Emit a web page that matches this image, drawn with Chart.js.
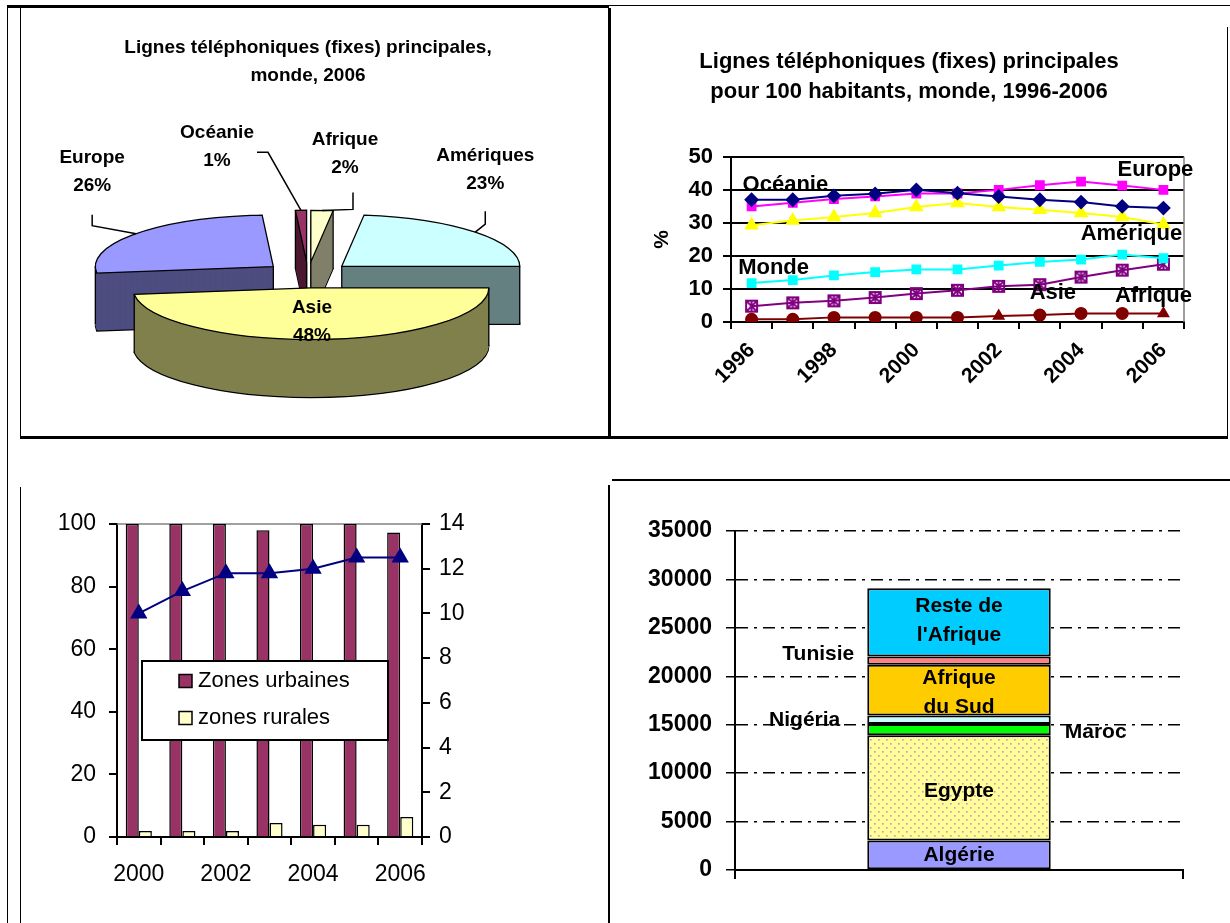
<!DOCTYPE html>
<html>
<head>
<meta charset="utf-8">
<script src="https://cdn.jsdelivr.net/npm/chart.js@4.4.1/dist/chart.umd.min.js"></script>
<style>
  body { margin: 0; background: #fff; }
  #page { position: relative; width: 1230px; height: 923px; overflow: hidden; background: #fff; }
  .ln { position: absolute; background: #000; }
  .panel { position: absolute; }
</style>
</head>
<body>
<div id="page">
  <!-- frame lines -->
  <div class="ln" style="left:7px;top:5px;width:1px;height:918px"></div>
  <div class="ln" style="left:7px;top:5px;width:602px;height:3px"></div>
  <div class="ln" style="left:609px;top:5px;width:621px;height:1px"></div>
  <div class="ln" style="left:20px;top:8px;width:1px;height:430px"></div>
  <div class="ln" style="left:608px;top:8px;width:3px;height:430px"></div>
  <div class="ln" style="left:1227px;top:27px;width:1px;height:411px"></div>
  <div class="ln" style="left:20px;top:436px;width:1208px;height:3px"></div>
  <div class="ln" style="left:20px;top:487px;width:1px;height:436px"></div>
  <div class="ln" style="left:608px;top:485px;width:2px;height:438px"></div>
  <div class="ln" style="left:612px;top:479px;width:618px;height:2px"></div>

  <div class="panel" style="left:21px;top:8px;width:586px;height:428px"><canvas id="pie"></canvas></div>
  <div class="panel" style="left:612px;top:6px;width:614px;height:430px"><canvas id="lines"></canvas></div>
  <div class="panel" style="left:21px;top:488px;width:586px;height:435px"><canvas id="zones"></canvas></div>
  <div class="panel" style="left:613px;top:482px;width:617px;height:441px"><canvas id="stack"></canvas></div>
</div>

<script>
// --- pie : lignes fixes par région, 2006 (%)
const pieRegions = ['Afrique', 'Amériques', 'Asie', 'Europe', 'Océanie'];
const pieShares = [2, 23, 48, 26, 1];

// --- lignes pour 100 habitants, 1996-2006
const lineYears = ['1996', '1997', '1998', '1999', '2000', '2001', '2002', '2003', '2004', '2005', '2006'];
const oceanie = [37, 37, 38.2, 38.8, 40, 39, 38, 37, 36.3, 35, 34.5];
const europe = [35, 36.1, 37.2, 38, 38.9, 38.9, 40, 41.4, 42.5, 41.3, 40];
const amerique = [29.3, 30.7, 31.8, 33, 34.8, 36, 34.8, 34, 33, 31.8, 29.5];
const monde = [11.8, 12.7, 14.1, 15.1, 15.9, 15.9, 17.1, 18.2, 18.9, 20.4, 19.3];
const asie = [4.8, 5.8, 6.4, 7.4, 8.6, 9.6, 10.8, 11.3, 13.6, 15.7, 17.5];
const afrique = [0.8, 0.8, 1.4, 1.4, 1.4, 1.4, 1.8, 2.1, 2.6, 2.6, 2.6];

// --- zones urbaines / rurales, 2000-2006
const zoneYears = ['2000', '2001', '2002', '2003', '2004', '2005', '2006'];
const urbaines = [100, 100, 100, 98, 100, 100, 97.3];
const rurales = [1.9, 1.9, 1.9, 4.5, 3.9, 3.9, 6.4];
const ensemble = [10, 11, 11.8, 11.8, 12, 12.5, 12.5];

// --- Afrique, lignes (milliers)
const pays = ['Algérie', 'Egypte', 'Maroc', 'Nigéria', 'Afrique\ndu Sud', 'Tunisie', "Reste de\nl'Afrique"];
const lignes = [3050, 10850, 1180, 870, 5230, 870, 7030];

const FONT = "'Liberation Sans', Arial, sans-serif";
Chart.defaults.font.family = FONT;
Chart.defaults.color = '#000';
Chart.defaults.animation = false;
Chart.defaults.events = [];
Chart.defaults.plugins.legend.display = false;
Chart.defaults.plugins.tooltip.enabled = false;

// ---------- 1. pie drawn flat then squashed, with a side wall
const pie3d = {
    id: 'pie3d',
    beforeDatasetDraw(chart, args, o) {
        const ctx = chart.ctx;
        const arcs = args.meta.data;
        const ds = chart.data.datasets[args.index];
        const mid = a => (a.startAngle + a.endAngle) / 2;
        const order = arcs.map((a, i) => i).sort((i, j) => Math.sin(mid(arcs[i])) - Math.sin(mid(arcs[j])));
        order.forEach(i => {
            const arc = arcs[i];
            const h = mid(arc);
            const ox = Math.cos(h) * o.explode, oy = Math.sin(h) * o.explode;
            const place = d => {
                ctx.translate(0, d);
                ctx.translate(arc.x, arc.y);
                ctx.scale(1, o.tilt);
                ctx.translate(-arc.x + ox, -arc.y + oy);
            };
            const fill = (d, color) => {
                const ghost = Object.create(arc);
                ghost.options = Object.assign({}, arc.options, {backgroundColor: color, borderWidth: 0, offset: 0, spacing: 0});
                ctx.save(); place(d); ghost.draw(ctx); ctx.restore();
            };
            const edge = d => {
                ctx.save(); place(d);
                ctx.beginPath();
                ctx.moveTo(arc.x, arc.y);
                ctx.arc(arc.x, arc.y, arc.outerRadius, arc.startAngle, arc.endAngle);
                ctx.closePath();
                ctx.restore();
                ctx.lineWidth = o.lineWidth; ctx.strokeStyle = '#000'; ctx.stroke();
            };
            // outline of the top face in screen space, to find the side silhouette
            const pts = [[arc.x + ox, arc.y + oy * o.tilt]];
            for (let k = 0; k <= 60; k++) {
                const a = arc.startAngle + (arc.endAngle - arc.startAngle) * k / 60;
                pts.push([arc.x + ox + Math.cos(a) * arc.outerRadius, arc.y + (oy + Math.sin(a) * arc.outerRadius) * o.tilt]);
            }
            const left = pts.reduce((m, p) => (p[0] < m[0] ? p : m));
            const right = pts.reduce((m, p) => (p[0] > m[0] ? p : m));

            fill(o.depth, ds.sideColor[i]);
            edge(o.depth);
            for (let d = o.depth - 1; d > 0; d--) fill(d, ds.sideColor[i]);
            ctx.save();
            ctx.strokeStyle = '#000'; ctx.lineWidth = o.lineWidth;
            ctx.beginPath();
            [left, right].forEach(p => { ctx.moveTo(p[0], p[1]); ctx.lineTo(p[0], p[1] + o.depth); });
            ctx.stroke();
            ctx.restore();
            fill(0, ds.backgroundColor[i]);
            edge(0);
        });
        return false;
    }
};

const pieNames = {
    id: 'pieNames',
    afterDraw(chart, args, o) {
        const ctx = chart.ctx;
        const arcs = chart.getDatasetMeta(0).data;
        const shares = chart.data.datasets[0].data;
        const tilt = o.tilt;
        ctx.save();
        ctx.font = o.font; ctx.textAlign = 'center'; ctx.textBaseline = 'middle'; ctx.fillStyle = '#000';
        ctx.strokeStyle = '#000'; ctx.lineWidth = 1.5;
        arcs.forEach((arc, i) => {
            const h = (arc.startAngle + arc.endAngle) / 2;
            const cx = arc.x + Math.cos(h) * o.explode;
            const cy = arc.y + Math.sin(h) * o.explode * tilt;
            const txt = [chart.data.labels[i], shares[i] + '%'];
            const s = o.spots[i];
            let lx, ly;
            if (s.inside) {
                lx = cx + Math.cos(h) * arc.outerRadius * 0.1;
                ly = cy + Math.sin(h) * arc.outerRadius * 0.1 * tilt + s.dy;
            } else {
                const rx = cx + Math.cos(h) * arc.outerRadius;
                const ry = cy + Math.sin(h) * arc.outerRadius * tilt;
                lx = rx + s.dx; ly = ry + s.dy;
                ctx.beginPath();
                ctx.moveTo(lx + s.lead[0], ly + s.lead[1]);
                ctx.lineTo(lx + s.lead[2], ly + s.lead[3]);
                ctx.lineTo(rx, ry);
                ctx.stroke();
            }
            ctx.fillText(txt[0], lx, ly - o.gap / 2);
            ctx.fillText(txt[1], lx, ly + o.gap / 2);
        });
        ctx.restore();
    }
};

new Chart(document.getElementById('pie'), {
    type: 'pie',
    data: {
        labels: pieRegions,
        datasets: [{
            data: pieShares,
            radius: 178,
            backgroundColor: ['#FFFFCC', '#CCFFFF', '#FFFF99', '#9999FF', '#993366'],
            sideColor: ['#80806A', '#668080', '#80804D', '#4D4D80', '#4D1A33'],
            clip: false
        }]
    },
    options: {
        responsive: true,
        maintainAspectRatio: false,
        layout: {padding: {left: 0, right: 12, top: 0, bottom: 0}},
        plugins: {
            title: {
                display: true,
                text: ['Lignes téléphoniques (fixes) principales,', 'monde, 2006'],
                font: {size: 19, weight: 'bold', lineHeight: 1.47},
                color: '#000',
                padding: {top: 26, bottom: 24}
            },
            pie3d: {tilt: 0.29, depth: 58, explode: 45, lineWidth: 1.3},
            pieNames: {
                tilt: 0.29, explode: 45, gap: 28,
                font: 'bold 19px ' + FONT,
                spots: [
                    {dx: 23, dy: -57, lead: [8, 39, 8, 56]},
                    {dx: 10, dy: -62, lead: [0, 41, 0, 54]},
                    {inside: true, dy: 29},
                    {dx: -44, dy: -62, lead: [0, 43, 0, 54]},
                    {dx: -84, dy: -64, lead: [40, 6, 51, 6]}
                ]
            }
        }
    },
    plugins: [pie3d, pieNames]
});

// ---------- 2. line chart
function starBox(color) {
    const c = document.createElement('canvas');
    c.width = 15; c.height = 15;
    const g = c.getContext('2d');
    g.strokeStyle = color; g.lineWidth = 2;
    g.strokeRect(2, 2, 11, 11);
    g.beginPath();
    g.moveTo(3, 3); g.lineTo(12, 12);
    g.moveTo(12, 3); g.lineTo(3, 12);
    g.moveTo(7.5, 2); g.lineTo(7.5, 13);
    g.stroke();
    return c;
}

const seriesTags = {
    id: 'seriesTags',
    afterDatasetsDraw(chart, args, o) {
        const ctx = chart.ctx;
        ctx.save();
        ctx.font = o.font; ctx.fillStyle = '#000'; ctx.textBaseline = 'middle';
        o.tags.forEach(t => {
            const pt = chart.getDatasetMeta(t.ds).data[t.at];
            ctx.textAlign = t.align || 'center';
            ctx.fillText(chart.data.datasets[t.ds].label, pt.x + t.dx, pt.y + t.dy);
        });
        ctx.restore();
    }
};

const grayRight = {
    id: 'grayRight',
    beforeDatasetsDraw(chart) {
        const {ctx, chartArea: a} = chart;
        ctx.save();
        ctx.strokeStyle = '#808080'; ctx.lineWidth = 1.5;
        ctx.beginPath(); ctx.moveTo(a.right, a.top); ctx.lineTo(a.right, a.bottom); ctx.stroke();
        ctx.restore();
    }
};

const lineSet = (label, data, color, style, radius) => ({
    label, data,
    borderColor: color, backgroundColor: color,
    borderWidth: 2, pointStyle: style, pointRadius: radius,
    pointBorderColor: color, pointBackgroundColor: color
});

new Chart(document.getElementById('lines'), {
    type: 'line',
    data: {
        labels: lineYears,
        datasets: [
            lineSet('Océanie', oceanie, '#000080', 'rectRot', 6),
            lineSet('Europe', europe, '#FF00FF', 'rect', 5.5),
            lineSet('Amérique', amerique, '#FFFF00', 'triangle', 6.5),
            lineSet('Monde', monde, '#00FFFF', 'rect', 5.5),
            Object.assign(lineSet('Asie', asie, '#800080', starBox('#800080'), 6), {pointBackgroundColor: 'rgba(0,0,0,0)'}),
            Object.assign(lineSet('Afrique', afrique, '#800000', 'circle', 5.5), {
                pointStyle: ['circle', 'circle', 'circle', 'circle', 'circle', 'circle', 'triangle', 'circle', 'circle', 'circle', 'triangle']
            })
        ]
    },
    options: {
        responsive: true,
        maintainAspectRatio: false,
        layout: {padding: {left: 0, right: 20, top: 0, bottom: 0}},
        scales: {
            x: {
                offset: true,
                grid: {offset: true, drawOnChartArea: false, color: '#000', lineWidth: 2, tickLength: 7},
                border: {color: '#000', width: 2},
                ticks: {
                    autoSkip: false, minRotation: 45, maxRotation: 45, padding: 9,
                    font: {size: 21, weight: 'bold'}, color: '#000',
                    callback: (v, i) => (i % 2 === 0 ? lineYears[i] : '')
                },
                afterFit: s => { s.height = 114; }
            },
            y: {
                min: 0, max: 50,
                ticks: {stepSize: 10, font: {size: 22, weight: 'bold'}, color: '#000', padding: 10},
                grid: {color: '#000', lineWidth: 2, tickLength: 8},
                border: {color: '#000', width: 2},
                title: {display: true, text: '%', font: {size: 21, weight: 'bold'}, color: '#000', padding: {top: 38, bottom: 0}},
                afterFit: s => { s.width = 119; }
            },
            // empty strip on the right so the title centres like the original
            yRight: {
                position: 'right', min: 0, max: 50,
                grid: {display: false}, border: {display: false}, ticks: {display: false},
                afterFit: s => { s.width = 22; }
            }
        },
        plugins: {
            title: {
                display: true,
                text: ['Lignes téléphoniques (fixes) principales', 'pour 100 habitants, monde, 1996-2006'],
                font: {size: 22, weight: 'bold', lineHeight: 1.36},
                color: '#000',
                padding: {top: 41, bottom: 50}
            },
            seriesTags: {
                font: 'bold 22px ' + FONT,
                tags: [
                    {ds: 0, at: 0, dx: -9, dy: -15, align: 'left'},
                    {ds: 1, at: 10, dx: -8, dy: -20},
                    {ds: 2, at: 10, dx: -32, dy: 9},
                    {ds: 3, at: 0, dx: 22, dy: -15},
                    {ds: 4, at: 7, dx: 13, dy: 8},
                    {ds: 5, at: 10, dx: -10, dy: -17}
                ]
            }
        }
    },
    plugins: [grayRight, seriesTags]
});

// ---------- 3. urban / rural bars with line on right axis
const boxLegend = {
    id: 'boxLegend',
    afterDraw(chart, args, o) {
        const {ctx, chartArea: a} = chart;
        const x = a.left + o.x, y = a.top + o.y;
        ctx.save();
        ctx.fillStyle = '#fff'; ctx.fillRect(x, y, o.w, o.h);
        ctx.lineWidth = 2; ctx.strokeStyle = '#000'; ctx.strokeRect(x, y, o.w, o.h);
        ctx.font = o.font; ctx.textBaseline = 'middle'; ctx.textAlign = 'left';
        chart.data.datasets.filter(d => d.type === 'bar').forEach((d, i) => {
            const cy = y + o.rowTop + i * o.rowGap;
            ctx.fillStyle = d.backgroundColor;
            ctx.fillRect(x + o.sw, cy - 6.5, 13, 13);
            ctx.lineWidth = 1.5; ctx.strokeRect(x + o.sw, cy - 6.5, 13, 13);
            ctx.fillStyle = '#000';
            ctx.fillText(d.label, x + o.sw + 19, cy);
        });
        ctx.restore();
    }
};

const grayTop = {
    id: 'grayTop',
    beforeDatasetsDraw(chart) {
        const {ctx, chartArea: a} = chart;
        ctx.save();
        ctx.strokeStyle = '#808080'; ctx.lineWidth = 1.5;
        ctx.beginPath(); ctx.moveTo(a.left, a.top); ctx.lineTo(a.right, a.top); ctx.stroke();
        ctx.restore();
    }
};

const axisStyle = {
    grid: {drawOnChartArea: false, color: '#000', lineWidth: 2, tickLength: 8},
    border: {color: '#000', width: 2}
};

new Chart(document.getElementById('zones'), {
    data: {
        labels: zoneYears,
        datasets: [
            {type: 'line', label: 'ensemble', data: ensemble, yAxisID: 'y1', order: 0,
             borderColor: '#000080', backgroundColor: '#000080', borderWidth: 2,
             pointStyle: 'triangle', pointRadius: 8},
            {type: 'bar', label: 'Zones urbaines', data: urbaines, order: 1,
             backgroundColor: '#993366', borderColor: '#000', borderWidth: 1.5, borderSkipped: 'bottom',
             categoryPercentage: 0.6, barPercentage: 1},
            {type: 'bar', label: 'zones rurales', data: rurales, order: 1,
             backgroundColor: '#FFFFCC', borderColor: '#000', borderWidth: 1.5, borderSkipped: 'bottom',
             categoryPercentage: 0.6, barPercentage: 1}
        ]
    },
    options: {
        responsive: true,
        maintainAspectRatio: false,
        layout: {padding: {left: 0, right: 125, top: 36, bottom: 20}},
        scales: {
            x: {
                offset: true,
                grid: Object.assign({}, axisStyle.grid, {offset: true}),
                border: axisStyle.border,
                ticks: {autoSkip: false, maxRotation: 0, padding: 16, font: {size: 23}, color: '#000',
                        callback: (v, i) => (i % 2 === 0 ? zoneYears[i] : '')},
                afterFit: s => { s.height = 66; }
            },
            y: {
                min: 0, max: 100,
                ticks: {stepSize: 20, font: {size: 23}, color: '#000', padding: 13},
                grid: axisStyle.grid, border: axisStyle.border,
                afterFit: s => { s.width = 96; }
            },
            y1: {
                position: 'right', min: 0, max: 14,
                ticks: {stepSize: 2, font: {size: 23}, color: '#000', padding: 9},
                grid: axisStyle.grid, border: axisStyle.border,
                afterFit: s => { s.width = 60; }
            }
        },
        plugins: {
            boxLegend: {x: 25, y: 137, w: 246, h: 79, sw: 37, rowTop: 20, rowGap: 37, font: '22px ' + FONT}
        }
    },
    plugins: [grayTop, boxLegend]
});

// ---------- 4. stacked column, Afrique
function dots() {
    const c = document.createElement('canvas');
    c.width = 8; c.height = 8;
    const g = c.getContext('2d');
    g.fillStyle = '#FFFF99'; g.fillRect(0, 0, 8, 8);
    g.fillStyle = '#D98CB3';
    g.fillRect(1, 1, 1.6, 1.6); g.fillRect(5, 5, 1.6, 1.6);
    return g.createPattern(c, 'repeat');
}

const segNames = {
    id: 'segNames',
    afterDatasetsDraw(chart, args, o) {
        const ctx = chart.ctx;
        ctx.save();
        ctx.font = o.font; ctx.fillStyle = '#000'; ctx.textBaseline = 'middle';
        chart.data.datasets.forEach((d, i) => {
            const bar = chart.getDatasetMeta(i).data[0];
            const p = o.place[i];
            const rows = d.label.split('\n');
            const midY = (bar.y + bar.base) / 2 + p.dy;
            let x = bar.x;
            ctx.textAlign = 'center';
            if (p.side === 'left') { x = bar.x - bar.width / 2 + p.dx; ctx.textAlign = 'right'; }
            if (p.side === 'right') { x = bar.x + bar.width / 2 + p.dx; ctx.textAlign = 'left'; }
            rows.forEach((t, k) => ctx.fillText(t, x, midY + (k - (rows.length - 1) / 2) * o.gap));
        });
        ctx.restore();
    }
};

const fills = ['#9999FF', dots(), '#00FF00', '#CCFFFF', '#FFCC00', '#FF8080', '#00CCFF'];

new Chart(document.getElementById('stack'), {
    type: 'bar',
    data: {
        labels: [''],
        datasets: pays.map((p, i) => ({
            label: p, data: [lignes[i]],
            backgroundColor: fills[i], borderColor: '#000', borderWidth: 2, borderSkipped: false,
            barPercentage: 0.9, categoryPercentage: 0.455
        }))
    },
    options: {
        responsive: true,
        maintainAspectRatio: false,
        layout: {padding: {left: 0, right: 47, top: 49, bottom: 20}},
        scales: {
            x: {
                stacked: true,
                grid: {offset: true, drawOnChartArea: false, color: '#000', lineWidth: 2, tickLength: 9},
                border: {color: '#000', width: 2},
                ticks: {display: false},
                afterFit: s => { s.height = 33; }
            },
            y: {
                stacked: true, min: 0, max: 35000,
                ticks: {stepSize: 5000, font: {size: 23, weight: 'bold'}, color: '#000', padding: 14,
                        callback: v => String(v)},
                grid: {color: '#000', lineWidth: 1.5, tickLength: 9},
                border: {color: '#000', width: 2, dash: [12, 6, 3, 6]},
                afterFit: s => { s.width = 122; }
            }
        },
        plugins: {
            segNames: {
                font: 'bold 21px ' + FONT, gap: 29,
                place: [
                    {side: 'in', dy: 0},
                    {side: 'in', dy: 3},
                    {side: 'right', dx: 14, dy: 3},
                    {side: 'left', dx: -27, dy: 0},
                    {side: 'in', dy: 3},
                    {side: 'left', dx: -13, dy: -6},
                    {side: 'in', dy: -2}
                ]
            }
        }
    },
    plugins: [segNames]
});
</script>
</body>
</html>
